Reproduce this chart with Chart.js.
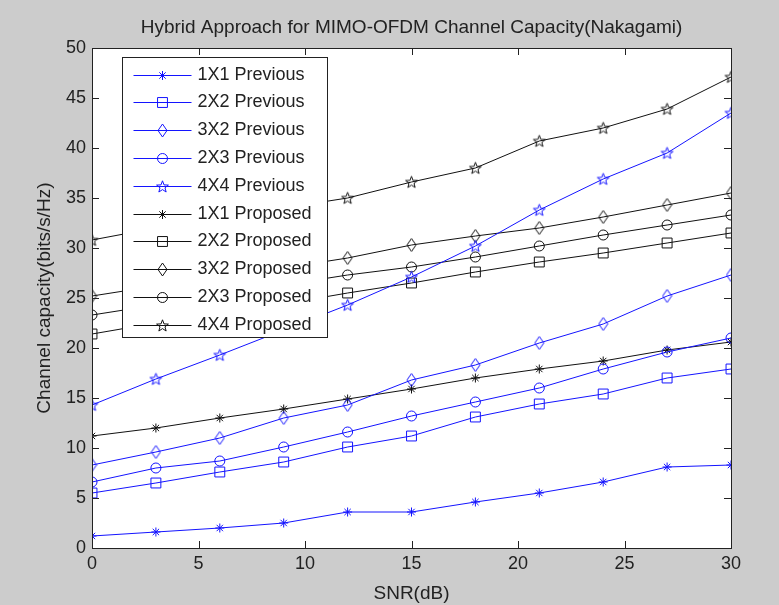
<!DOCTYPE html>
<html>
<head>
<meta charset="utf-8">
<title>Hybrid Approach for MIMO-OFDM Channel Capacity</title>
<script src="https://cdn.jsdelivr.net/npm/chart.js@4.4.0/dist/chart.umd.min.js"></script>
<style>
  html, body { margin: 0; padding: 0; background: #cccccc; }
  #wrap { width: 779px; height: 605px; }
</style>
</head>
<body>
<div id="wrap"><canvas id="capacityChart" width="779" height="605"></canvas></div>
<script>
// SNR sweep (dB)
const snr = [0, 3, 6, 9, 12, 15, 18, 21, 24, 27, 30];

// capacity, previous scheme (bits/s/Hz)
const prev1x1 = [1.2, 1.6, 2.0, 2.5, 3.6, 3.6, 4.6, 5.5, 6.6, 8.1, 8.3];
const prev2x2 = [5.5, 6.5, 7.6, 8.6, 10.1, 11.2, 13.1, 14.4, 15.4, 17.0, 17.9];
const prev3x2 = [8.3, 9.6, 11.0, 13.0, 14.3, 16.8, 18.3, 20.5, 22.4, 25.2, 27.3];
const prev2x3 = [6.6, 8.0, 8.7, 10.1, 11.6, 13.2, 14.6, 16.0, 17.9, 19.6, 21.0];
const prev4x4 = [14.3, 16.9, 19.3, 21.8, 24.3, 27.1, 30.2, 33.8, 36.9, 39.5, 43.5];

// capacity, proposed scheme (bits/s/Hz)
const prop1x1 = [11.2, 12.0, 13.0, 13.9, 14.9, 15.9, 17.0, 17.9, 18.7, 19.8, 20.6];
const prop2x2 = [21.4, 22.5, 23.4, 24.4, 25.5, 26.5, 27.6, 28.6, 29.5, 30.5, 31.5];
const prop3x2 = [25.2, 26.2, 27.1, 28.0, 29.0, 30.3, 31.2, 32.0, 33.1, 34.3, 35.5];
const prop2x3 = [23.3, 24.3, 25.3, 26.3, 27.3, 28.1, 29.1, 30.2, 31.3, 32.3, 33.3];
const prop4x4 = [30.8, 32.0, 33.1, 34.0, 35.0, 36.6, 38.0, 40.7, 42.0, 43.9, 47.1];

const seriesNames = ['1X1 Previous', '2X2 Previous', '3X2 Previous', '2X3 Previous', '4X4 Previous',
                     '1X1 Proposed', '2X2 Proposed', '3X2 Proposed', '2X3 Proposed', '4X4 Proposed'];

const BLUE = '#1414ff';
const BLACK = '#111111';
const TEXT = '#222222';
const FONT = '"Liberation Sans", Arial, Helvetica, sans-serif';

// hollow pentagram marker
function makePentagram(color) {
  const c = document.createElement('canvas');
  c.width = 15; c.height = 15;
  const g = c.getContext('2d');
  g.strokeStyle = color;
  g.lineWidth = 1;
  g.beginPath();
  for (let i = 0; i < 10; i++) {
    const r = i % 2 ? 2.6 : 6.2;
    const a = -Math.PI / 2 + i * Math.PI / 5;
    const px = 7.5 + r * Math.cos(a), py = 8 + r * Math.sin(a);
    if (i) g.lineTo(px, py); else g.moveTo(px, py);
  }
  g.closePath();
  g.stroke();
  return c;
}

// tall hollow diamond marker
function makeDiamond(color) {
  const c = document.createElement('canvas');
  c.width = 11; c.height = 15;
  const g = c.getContext('2d');
  g.strokeStyle = color;
  g.lineWidth = 1;
  g.beginPath();
  g.moveTo(5.5, 1); g.lineTo(10, 7.5); g.lineTo(5.5, 14); g.lineTo(1, 7.5);
  g.closePath();
  g.stroke();
  return c;
}

function series(label, data, color, style, radius) {
  return {
    label: label,
    data: data.map((v, i) => ({ x: snr[i], y: v })),
    borderColor: color,
    borderWidth: 1,
    pointStyle: style,
    pointRadius: radius,
    pointBorderColor: color,
    pointBackgroundColor: 'rgba(0,0,0,0)',
    pointBorderWidth: 1,
    tension: 0
  };
}

const datasets = [
  series(seriesNames[0], prev1x1, BLUE, 'star', 4.5),
  series(seriesNames[1], prev2x2, BLUE, 'rect', 7),
  series(seriesNames[2], prev3x2, BLUE, makeDiamond(BLUE), 6),
  series(seriesNames[3], prev2x3, BLUE, 'circle', 5),
  series(seriesNames[4], prev4x4, BLUE, makePentagram(BLUE), 6),
  series(seriesNames[5], prop1x1, BLACK, 'star', 4.5),
  series(seriesNames[6], prop2x2, BLACK, 'rect', 7),
  series(seriesNames[7], prop3x2, BLACK, makeDiamond(BLACK), 6),
  series(seriesNames[8], prop2x3, BLACK, 'circle', 5),
  series(seriesNames[9], prop4x4, BLACK, makePentagram(BLACK), 6)
];

// grey figure, white axes, boxed frame with inward ticks, title and legend box
const matlabAxes = {
  id: 'matlabAxes',
  beforeDraw(chart) {
    const { ctx, chartArea: a } = chart;
    ctx.save();
    ctx.fillStyle = '#cccccc';
    ctx.fillRect(0, 0, chart.width, chart.height);
    ctx.fillStyle = '#ffffff';
    ctx.fillRect(a.left, a.top, a.right - a.left, a.bottom - a.top);
    ctx.restore();
  },
  afterDatasetsDraw(chart) {
    const { ctx, chartArea: a, scales } = chart;
    const len = 7;
    ctx.save();
    ctx.strokeStyle = '#222222';
    ctx.lineWidth = 1;
    ctx.strokeRect(Math.round(a.left) + 0.5, Math.round(a.top) + 0.5,
                   Math.round(a.right - a.left), Math.round(a.bottom - a.top));
    ctx.beginPath();
    scales.x.ticks.forEach(t => {
      const px = Math.round(scales.x.getPixelForValue(t.value)) + 0.5;
      ctx.moveTo(px, a.bottom); ctx.lineTo(px, a.bottom - len);
      ctx.moveTo(px, a.top); ctx.lineTo(px, a.top + len);
    });
    scales.y.ticks.forEach(t => {
      const py = Math.round(scales.y.getPixelForValue(t.value)) + 0.5;
      ctx.moveTo(a.left, py); ctx.lineTo(a.left + len, py);
      ctx.moveTo(a.right, py); ctx.lineTo(a.right - len, py);
    });
    ctx.stroke();
    ctx.restore();
  },
  afterDraw(chart) {
    const { ctx, chartArea: a } = chart;
    ctx.save();
    // title
    ctx.fillStyle = TEXT;
    ctx.font = '19px ' + FONT;
    ctx.textAlign = 'center';
    ctx.textBaseline = 'middle';
    ctx.fillText('Hybrid Approach for MIMO-OFDM Channel Capacity(Nakagami)', (a.left + a.right) / 2, 28);

    // legend
    const box = { x: 122.5, y: 57.5, w: 205, h: 280 };
    const rowH = 27.8;
    ctx.fillStyle = '#ffffff';
    ctx.fillRect(box.x, box.y, box.w, box.h);
    ctx.strokeStyle = '#222222';
    ctx.lineWidth = 1;
    ctx.strokeRect(box.x, box.y, box.w, box.h);
    ctx.font = '18px ' + FONT;
    ctx.textAlign = 'left';
    chart.data.datasets.forEach((ds, i) => {
      const y = Math.round(box.y + 17 + i * rowH) + 0.5;
      ctx.strokeStyle = ds.borderColor;
      ctx.lineWidth = 1;
      ctx.beginPath();
      ctx.moveTo(box.x + 11, y);
      ctx.lineTo(box.x + 69, y);
      ctx.stroke();
      ctx.fillStyle = 'rgba(0,0,0,0)';
      Chart.helpers.drawPoint(ctx, {
        pointStyle: ds.pointStyle,
        radius: ds.pointRadius,
        borderWidth: 1,
        rotation: 0
      }, box.x + 40, y);
      ctx.fillStyle = TEXT;
      ctx.fillText(ds.label, box.x + 75, y);
    });
    ctx.restore();
  }
};

new Chart(document.getElementById('capacityChart'), {
  type: 'line',
  data: { datasets: datasets },
  plugins: [matlabAxes],
  options: {
    responsive: false,
    animation: false,
    devicePixelRatio: 1,
    layout: { padding: { top: 48, right: 48, left: 0, bottom: 0 } },
    plugins: {
      legend: { display: false },
      title: { display: false },
      tooltip: { enabled: false }
    },
    scales: {
      x: {
        type: 'linear',
        min: 0,
        max: 30,
        afterFit: s => { s.height = 57; },
        ticks: { stepSize: 5, color: TEXT, font: { family: FONT, size: 18 }, padding: 5, maxRotation: 0 },
        grid: { display: false, drawTicks: false },
        border: { display: false },
        title: { display: true, text: 'SNR(dB)', color: TEXT, font: { family: FONT, size: 19 }, padding: { top: 6.5, bottom: 0 } }
      },
      y: {
        min: 0,
        max: 50,
        afterFit: s => { s.width = 92; },
        ticks: { stepSize: 5, color: TEXT, font: { family: FONT, size: 18 }, padding: 6 },
        grid: { display: false, drawTicks: false },
        border: { display: false },
        title: { display: true, text: 'Channel capacity(bits/s/Hz)', color: TEXT, font: { family: FONT, size: 19 }, padding: { top: 33, bottom: 4 } }
      }
    }
  }
});
</script>
</body>
</html>
